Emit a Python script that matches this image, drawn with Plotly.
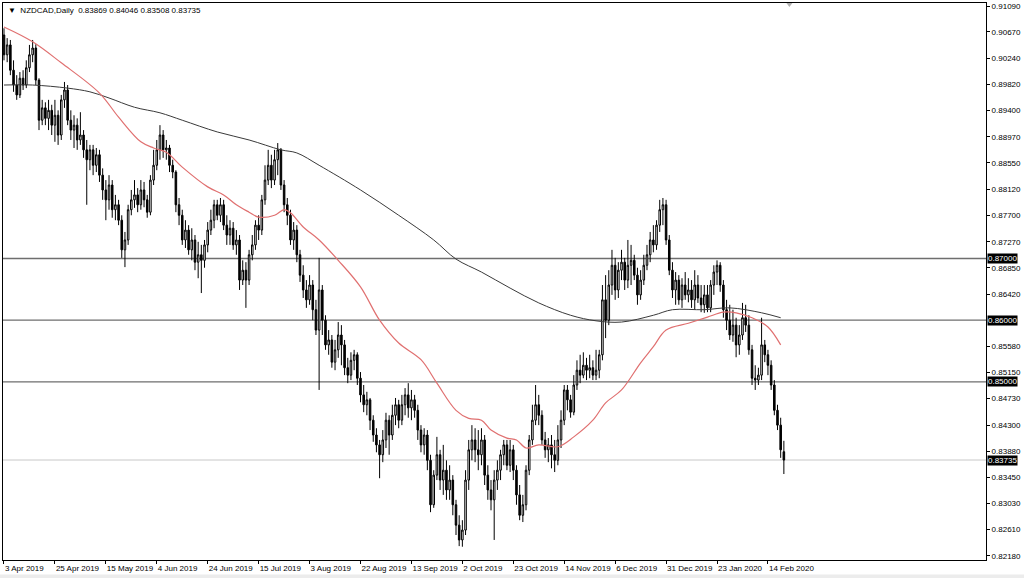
import plotly.graph_objects as go

# ---------------- data ----------------
title_text = "\u25BC  NZDCAD,Daily  0.83869 0.84046 0.83508 0.83735"

date_labels = ["3 Apr 2019", "25 Apr 2019", "15 May 2019", "4 Jun 2019", "24 Jun 2019",
               "15 Jul 2019", "3 Aug 2019", "22 Aug 2019", "13 Sep 2019", "2 Oct 2019",
               "23 Oct 2019", "14 Nov 2019", "6 Dec 2019", "31 Dec 2019", "23 Jan 2020",
               "14 Feb 2020"]
date_label_bars = [0, 16, 32, 48, 64, 80, 96, 112, 128, 144, 160, 176, 192, 208, 224, 240]

price_ticks = [0.91090, 0.90670, 0.90240, 0.89820, 0.89400, 0.88970, 0.88550, 0.88120,
               0.87700, 0.87270, 0.86850, 0.86420, 0.85580, 0.85150, 0.84730, 0.84300,
               0.83880, 0.83450, 0.83030, 0.82610, 0.82180]

level_lines = [0.87000, 0.86000, 0.85000]
last_price = 0.83735

close = [
 .9030, .9046, .9005, .8981, .8965, .8992, .8981, .9009, .9030, .9041,
 .8989, .8924, .8944, .8927, .8940, .8916, .8932, .8900, .8957, .8973,
 .8924, .8908, .8916, .8892, .8900, .8876, .8860, .8876, .8851, .8868,
 .8835, .8811, .8795, .8819, .8779, .8787, .8762, .8714, .8730, .8779,
 .8795, .8803, .8787, .8811, .8795, .8775, .8827, .8851, .8876, .8900,
 .8876, .8879, .8851, .8840, .8787, .8770, .8730, .8746, .8714, .8730,
 .8694, .8706, .8697, .8722, .8746, .8762, .8787, .8770, .8787, .8754,
 .8738, .8749, .8722, .8730, .8665, .8681, .8665, .8706, .8722, .8754,
 .8746, .8795, .8827, .8851, .8827, .8860, .8876, .8819, .8787, .8770,
 .8730, .8746, .8706, .8673, .8649, .8633, .8657, .8617, .8584, .8649,
 .8600, .8560, .8568, .8532, .8552, .8576, .8560, .8523, .8511, .8535,
 .8544, .8506, .8479, .8463, .8471, .8438, .8414, .8398, .8382, .8406,
 .8438, .8414, .8446, .8463, .8438, .8463, .8479, .8458, .8471, .8454,
 .8422, .8398, .8414, .8373, .8301, .8349, .8382, .8341, .8357, .8325,
 .8341, .8301, .8268, .8244, .8260, .8341, .8390, .8406, .8390, .8382,
 .8406, .8349, .8325, .8309, .8341, .8357, .8382, .8398, .8365, .8390,
 .8357, .8317, .8284, .8301, .8357, .8406, .8438, .8463, .8446, .8406,
 .8390, .8398, .8382, .8373, .8406, .8438, .8487, .8471, .8451, .8495,
 .8519, .8511, .8527, .8519, .8523, .8511, .8519, .8544, .8633, .8600,
 .8657, .8689, .8649, .8681, .8694, .8665, .8689, .8697, .8673, .8641,
 .8665, .8689, .8706, .8730, .8722, .8754, .8779, .8787, .8730, .8681,
 .8649, .8665, .8633, .8657, .8641, .8649, .8633, .8657, .8636, .8625,
 .8641, .8620, .8657, .8678, .8689, .8657, .8617, .8600, .8576, .8592,
 .8560, .8576, .8604, .8592, .8552, .8506, .8503, .8511, .8560, .8544,
 .8527, .8495, .8454, .8430, .8390, .83735]

open_ = [
 .9062, .9030, .9046, .9005, .8981, .8965, .8992, .8981, .9009, .9030,
 .9041, .8989, .8924, .8944, .8927, .8940, .8916, .8932, .8900, .8957,
 .8973, .8924, .8908, .8916, .8892, .8900, .8876, .8860, .8876, .8851,
 .8868, .8835, .8811, .8795, .8819, .8779, .8787, .8762, .8714, .8730,
 .8779, .8795, .8803, .8787, .8811, .8795, .8775, .8827, .8851, .8876,
 .8900, .8876, .8879, .8851, .8840, .8787, .8770, .8730, .8746, .8714,
 .8730, .8694, .8706, .8697, .8722, .8746, .8762, .8787, .8770, .8787,
 .8754, .8738, .8749, .8722, .8730, .8665, .8681, .8665, .8706, .8722,
 .8754, .8746, .8795, .8827, .8851, .8827, .8860, .8876, .8819, .8787,
 .8770, .8730, .8746, .8706, .8673, .8649, .8633, .8657, .8617, .8584,
 .8649, .8600, .8560, .8568, .8532, .8552, .8576, .8560, .8523, .8511,
 .8535, .8544, .8506, .8479, .8463, .8471, .8438, .8414, .8398, .8382,
 .8406, .8438, .8414, .8446, .8463, .8438, .8463, .8479, .8458, .8471,
 .8454, .8422, .8398, .8414, .8373, .8301, .8349, .8382, .8341, .8357,
 .8325, .8341, .8301, .8268, .8244, .8260, .8341, .8390, .8406, .8390,
 .8382, .8406, .8349, .8325, .8309, .8341, .8357, .8382, .8398, .8365,
 .8390, .8357, .8317, .8284, .8301, .8357, .8406, .8438, .8463, .8446,
 .8406, .8390, .8398, .8382, .8373, .8406, .8438, .8487, .8471, .8451,
 .8495, .8519, .8511, .8527, .8519, .8523, .8511, .8519, .8544, .8633,
 .8600, .8657, .8689, .8649, .8681, .8694, .8665, .8689, .8697, .8673,
 .8641, .8665, .8689, .8706, .8730, .8722, .8754, .8779, .8787, .8730,
 .8681, .8649, .8665, .8633, .8657, .8641, .8649, .8633, .8657, .8636,
 .8625, .8641, .8620, .8657, .8678, .8689, .8657, .8617, .8600, .8576,
 .8592, .8560, .8576, .8604, .8592, .8552, .8506, .8503, .8511, .8560,
 .8544, .8527, .8495, .8454, .8430, .83869]

high = [
 .9073, .9057, .9054, .9021, .8997, .9002, .9005, .9021, .9046, .9054,
 .9047, .8992, .8957, .8953, .8957, .8949, .8957, .8940, .8965, .8986,
 .8981, .8940, .8932, .8927, .8937, .8908, .8892, .8884, .8884, .8879,
 .8876, .8846, .8827, .8835, .8827, .8803, .8795, .8770, .8743, .8787,
 .8811, .8827, .8814, .8827, .8824, .8803, .8835, .8876, .8892, .8916,
 .8908, .8892, .8884, .8860, .8843, .8798, .8779, .8762, .8754, .8749,
 .8738, .8727, .8722, .8730, .8759, .8779, .8795, .8795, .8798, .8795,
 .8770, .8762, .8759, .8746, .8738, .8697, .8694, .8714, .8738, .8762,
 .8770, .8803, .8851, .8876, .8868, .8876, .8887, .8879, .8827, .8798,
 .8779, .8759, .8754, .8714, .8689, .8665, .8673, .8665, .8633, .8701,
 .8657, .8608, .8584, .8576, .8568, .8597, .8592, .8568, .8539, .8548,
 .8552, .8548, .8516, .8495, .8484, .8474, .8446, .8425, .8406, .8422,
 .8450, .8446, .8463, .8474, .8471, .8479, .8490, .8498, .8487, .8479,
 .8463, .8430, .8425, .8422, .8382, .8357, .8411, .8390, .8398, .8373,
 .8365, .8349, .8309, .8284, .8276, .8357, .8406, .8430, .8425, .8422,
 .8425, .8414, .8365, .8341, .8357, .8373, .8390, .8406, .8406, .8406,
 .8398, .8365, .8333, .8317, .8365, .8414, .8463, .8495, .8479, .8454,
 .8419, .8409, .8414, .8406, .8430, .8454, .8495, .8495, .8479, .8511,
 .8535, .8544, .8548, .8539, .8544, .8535, .8552, .8552, .8657, .8673,
 .8681, .8714, .8701, .8694, .8714, .8701, .8730, .8722, .8706, .8685,
 .8681, .8706, .8722, .8743, .8754, .8762, .8795, .8798, .8795, .8738,
 .8694, .8678, .8673, .8668, .8678, .8668, .8665, .8681, .8673, .8657,
 .8657, .8657, .8665, .8689, .8697, .8694, .8665, .8633, .8625, .8617,
 .8604, .8592, .8628, .8625, .8608, .8560, .8527, .8523, .8604, .8568,
 .8552, .8535, .8503, .8463, .8442, .84046]

low = [
 .9021, .9018, .8997, .8970, .8957, .8960, .8973, .8976, .9002, .9018,
 .8981, .8908, .8916, .8916, .8908, .8900, .8889, .8884, .8892, .8944,
 .8916, .8892, .8879, .8876, .8884, .8863, .8787, .8843, .8835, .8840,
 .8824, .8795, .8762, .8779, .8766, .8762, .8754, .8701, .8686, .8722,
 .8770, .8782, .8775, .8779, .8783, .8766, .8770, .8819, .8843, .8860,
 .8863, .8860, .8840, .8830, .8775, .8754, .8722, .8717, .8706, .8697,
 .8681, .8668, .8644, .8685, .8710, .8738, .8749, .8762, .8759, .8746,
 .8722, .8722, .8714, .8706, .8649, .8657, .8620, .8657, .8697, .8714,
 .8730, .8738, .8787, .8819, .8814, .8819, .8835, .8811, .8775, .8754,
 .8722, .8714, .8694, .8662, .8636, .8620, .8625, .8600, .8576, .8487,
 .8576, .8552, .8544, .8523, .8519, .8539, .8527, .8511, .8498, .8503,
 .8519, .8495, .8467, .8451, .8446, .8422, .8403, .8386, .8344, .8370,
 .8393, .8382, .8406, .8430, .8425, .8430, .8446, .8442, .8438, .8442,
 .8406, .8386, .8382, .8357, .8289, .8296, .8341, .8325, .8317, .8309,
 .8309, .8284, .8252, .8234, .8233, .8252, .8325, .8373, .8370, .8357,
 .8365, .8333, .8309, .8292, .8244, .8325, .8341, .8365, .8357, .8354,
 .8341, .8301, .8276, .8273, .8292, .8349, .8398, .8430, .8430, .8398,
 .8377, .8370, .8360, .8354, .8365, .8393, .8430, .8454, .8442, .8446,
 .8487, .8498, .8506, .8503, .8506, .8503, .8503, .8506, .8535, .8571,
 .8592, .8641, .8633, .8636, .8665, .8649, .8652, .8657, .8665, .8625,
 .8633, .8657, .8681, .8694, .8710, .8714, .8743, .8754, .8722, .8673,
 .8636, .8625, .8625, .8620, .8633, .8629, .8620, .8617, .8628, .8613,
 .8612, .8613, .8613, .8641, .8657, .8646, .8604, .8584, .8568, .8565,
 .8540, .8544, .8568, .8581, .8544, .8495, .8487, .8495, .8503, .8532,
 .8511, .8487, .8446, .8422, .8377, .83508]

# moving averages (bar index, value)
ma_fast_bars = [0, 9, 18, 30, 36, 43, 47, 51, 56, 64, 69, 73, 77, 80, 85, 88, 90, 94, 99,
                105, 112, 118, 124, 131, 136, 142, 146, 150, 153, 158, 161, 164, 168, 174,
                179, 185, 189, 194, 200, 204, 208, 215, 221, 226, 230, 235, 240, 244]
ma_fast_vals = [.9075, .9051, .9017, .8968, .8929, .8889, .8879, .8872, .8848, .8816, .8803,
                .8787, .8775, .8767, .8770, .8779, .8774, .8751, .8730, .8697, .8654, .8600,
                .8563, .8536, .8498, .8454, .8441, .8438, .8422, .8409, .8406, .8393, .8398,
                .8395, .8411, .8438, .8466, .8487, .8531, .8557, .8584, .8595, .8605, .8613,
                .8612, .8604, .8589, .8560]

ma_slow_bars = [0, 9, 20, 27, 33, 41, 49, 56, 67, 77, 87, 92, 99, 112, 124, 135, 142, 150,
                159, 168, 178, 186, 194, 204, 210, 220, 228, 238, 244]
ma_slow_vals = [.8981, .8981, .8976, .8970, .8960, .8945, .8936, .8924, .8905, .8892, .8876,
                .8871, .8851, .8811, .8770, .8730, .8699, .8678, .8652, .8628, .8608, .8599,
                .8597, .8608, .8617, .8617, .8620, .8612, .8604]

# ---------------- figure ----------------
bars = list(range(len(close)))
FONT = "Liberation Sans"

fig = go.Figure()

for lvl in level_lines:
    fig.add_shape(type="line", xref="paper", x0=0, x1=1, yref="y", y0=lvl, y1=lvl,
                  line=dict(color="#6e6e6e", width=1.3), layer="below")
fig.add_shape(type="line", xref="paper", x0=0, x1=1, yref="y", y0=last_price, y1=last_price,
              line=dict(color="#c8c8c8", width=1), layer="below")

fig.add_trace(go.Scatter(x=ma_slow_bars, y=ma_slow_vals, mode="lines",
                         line=dict(color="#3a3a3a", width=1, shape="spline", smoothing=1.0),
                         hoverinfo="skip", showlegend=False))
fig.add_trace(go.Scatter(x=ma_fast_bars, y=ma_fast_vals, mode="lines",
                         line=dict(color="#e07070", width=1.2, shape="spline", smoothing=1.0),
                         hoverinfo="skip", showlegend=False))

fig.add_trace(go.Candlestick(
    x=bars, open=open_, high=high, low=low, close=close,
    increasing=dict(line=dict(color="#000000", width=1), fillcolor="#ffffff"),
    decreasing=dict(line=dict(color="#000000", width=1), fillcolor="#000000"),
    whiskerwidth=0, showlegend=False))

# price boxes on the right axis
for lvl in level_lines + [last_price]:
    fig.add_annotation(xref="paper", x=1, xanchor="left", xshift=1, yref="y", y=lvl,
                       text=f"{lvl:.5f}", showarrow=False,
                       font=dict(family=FONT, size=8, color="#ffffff"),
                       bgcolor="#000000", borderpad=0)

fig.add_annotation(xref="paper", yref="paper", x=0, y=1, xanchor="left", yanchor="top",
                   xshift=3, yshift=-1, text=title_text, showarrow=False,
                   font=dict(family=FONT, size=8, color="#000000"))

# small chart-shift marker at the top edge
fig.add_shape(type="path", xref="paper", yref="paper",
              path="M 0.797 1 L 0.803 1 L 0.800 0.993 Z",
              fillcolor="#b0b0b0", line=dict(width=0))

# bottom grey strip
fig.add_shape(type="rect", xref="paper", yref="paper", x0=-0.01, x1=1.05, y0=-0.026, y1=-0.05,
              fillcolor="#ececec", line=dict(width=0), layer="below")

fig.update_layout(
    width=1024, height=578,
    margin=dict(l=3, r=38, t=3, b=18, autoexpand=False),
    paper_bgcolor="#ffffff", plot_bgcolor="#ffffff",
    showlegend=False,
    xaxis=dict(range=[-0.31, 308.5], rangeslider=dict(visible=False),
               tickmode="array", tickvals=date_label_bars, ticktext=date_labels,
               ticks="outside", ticklen=3, tickcolor="#000000", tickangle=0,
               ticklabelposition="outside right", automargin=False,
               tickfont=dict(family=FONT, size=8, color="#000000"),
               showgrid=False, zeroline=False, showline=True, linecolor="#000000",
               linewidth=1, mirror=True),
    yaxis=dict(range=[0.82115, 0.91139], side="right", automargin=False,
               tickmode="array", tickvals=price_ticks,
               ticktext=[f"{v:.5f}" for v in price_ticks],
               ticks="outside", ticklen=3, tickcolor="#000000",
               tickfont=dict(family=FONT, size=8, color="#000000"),
               showgrid=False, zeroline=False, showline=True, linecolor="#000000",
               linewidth=1, mirror=True),
)

fig.write_html("out.html", config={"displayModeBar": False},
               post_script="document.body.style.margin='0';document.body.style.overflow='hidden';")
